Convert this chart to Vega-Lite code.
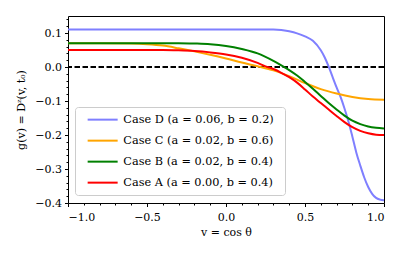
{
  "$schema": "https://vega.github.io/schema/vega-lite/v6.json",
  "width": 316,
  "height": 187,
  "autosize": "none",
  "padding": {"left": 68, "top": 16, "right": 23, "bottom": 52},
  "background": "white",
  "config": {
    "view": {"stroke": "#000", "strokeWidth": 1},
    "font": "DejaVu Serif",
    "axis": {"grid": false, "domain": false, "tickColor": "#000", "labelColor": "#000", "titleColor": "#000", "labelFont": "DejaVu Serif", "titleFont": "DejaVu Serif", "labelFontSize": 11, "titleFontSize": 11, "titleFontWeight": "normal"}
  },
  "datasets": {
    "curves": [
      {"case": "D", "v": -1.0, "g": 0.110}, {"case": "D", "v": -0.5, "g": 0.110}, {"case": "D", "v": 0.0, "g": 0.110}, {"case": "D", "v": 0.2, "g": 0.110}, {"case": "D", "v": 0.3, "g": 0.110}, {"case": "D", "v": 0.35, "g": 0.109}, {"case": "D", "v": 0.4, "g": 0.105}, {"case": "D", "v": 0.45, "g": 0.099}, {"case": "D", "v": 0.5, "g": 0.090}, {"case": "D", "v": 0.55, "g": 0.077}, {"case": "D", "v": 0.6, "g": 0.049}, {"case": "D", "v": 0.625, "g": 0.028}, {"case": "D", "v": 0.65, "g": 0.001}, {"case": "D", "v": 0.675, "g": -0.030}, {"case": "D", "v": 0.7, "g": -0.060}, {"case": "D", "v": 0.725, "g": -0.088}, {"case": "D", "v": 0.75, "g": -0.122}, {"case": "D", "v": 0.775, "g": -0.160}, {"case": "D", "v": 0.8, "g": -0.205}, {"case": "D", "v": 0.825, "g": -0.252}, {"case": "D", "v": 0.85, "g": -0.290}, {"case": "D", "v": 0.875, "g": -0.325}, {"case": "D", "v": 0.9, "g": -0.353}, {"case": "D", "v": 0.925, "g": -0.373}, {"case": "D", "v": 0.95, "g": -0.385}, {"case": "D", "v": 0.975, "g": -0.390}, {"case": "D", "v": 1.0, "g": -0.392},
      {"case": "C", "v": -1.0, "g": 0.070}, {"case": "C", "v": -0.8, "g": 0.070}, {"case": "C", "v": -0.6, "g": 0.069}, {"case": "C", "v": -0.5, "g": 0.067}, {"case": "C", "v": -0.4, "g": 0.063}, {"case": "C", "v": -0.3, "g": 0.055}, {"case": "C", "v": -0.2, "g": 0.046}, {"case": "C", "v": -0.1, "g": 0.036}, {"case": "C", "v": 0.0, "g": 0.025}, {"case": "C", "v": 0.1, "g": 0.013}, {"case": "C", "v": 0.2, "g": 0.002}, {"case": "C", "v": 0.3, "g": -0.010}, {"case": "C", "v": 0.4, "g": -0.027}, {"case": "C", "v": 0.5, "g": -0.047}, {"case": "C", "v": 0.6, "g": -0.065}, {"case": "C", "v": 0.7, "g": -0.078}, {"case": "C", "v": 0.8, "g": -0.088}, {"case": "C", "v": 0.9, "g": -0.094}, {"case": "C", "v": 1.0, "g": -0.096},
      {"case": "B", "v": -1.0, "g": 0.070}, {"case": "B", "v": -0.6, "g": 0.070}, {"case": "B", "v": -0.4, "g": 0.070}, {"case": "B", "v": -0.3, "g": 0.070}, {"case": "B", "v": -0.2, "g": 0.069}, {"case": "B", "v": -0.1, "g": 0.067}, {"case": "B", "v": 0.0, "g": 0.062}, {"case": "B", "v": 0.1, "g": 0.053}, {"case": "B", "v": 0.2, "g": 0.040}, {"case": "B", "v": 0.3, "g": 0.018}, {"case": "B", "v": 0.35, "g": 0.005}, {"case": "B", "v": 0.4, "g": -0.009}, {"case": "B", "v": 0.45, "g": -0.025}, {"case": "B", "v": 0.5, "g": -0.044}, {"case": "B", "v": 0.55, "g": -0.064}, {"case": "B", "v": 0.6, "g": -0.085}, {"case": "B", "v": 0.65, "g": -0.106}, {"case": "B", "v": 0.7, "g": -0.125}, {"case": "B", "v": 0.75, "g": -0.143}, {"case": "B", "v": 0.8, "g": -0.158}, {"case": "B", "v": 0.85, "g": -0.168}, {"case": "B", "v": 0.9, "g": -0.175}, {"case": "B", "v": 0.95, "g": -0.179}, {"case": "B", "v": 1.0, "g": -0.181},
      {"case": "A", "v": -1.0, "g": 0.050}, {"case": "A", "v": -0.6, "g": 0.050}, {"case": "A", "v": -0.4, "g": 0.050}, {"case": "A", "v": -0.3, "g": 0.049}, {"case": "A", "v": -0.2, "g": 0.047}, {"case": "A", "v": -0.1, "g": 0.043}, {"case": "A", "v": 0.0, "g": 0.037}, {"case": "A", "v": 0.1, "g": 0.027}, {"case": "A", "v": 0.2, "g": 0.012}, {"case": "A", "v": 0.25, "g": 0.002}, {"case": "A", "v": 0.3, "g": -0.006}, {"case": "A", "v": 0.35, "g": -0.017}, {"case": "A", "v": 0.4, "g": -0.030}, {"case": "A", "v": 0.45, "g": -0.046}, {"case": "A", "v": 0.5, "g": -0.066}, {"case": "A", "v": 0.55, "g": -0.087}, {"case": "A", "v": 0.6, "g": -0.106}, {"case": "A", "v": 0.65, "g": -0.125}, {"case": "A", "v": 0.7, "g": -0.144}, {"case": "A", "v": 0.75, "g": -0.162}, {"case": "A", "v": 0.8, "g": -0.177}, {"case": "A", "v": 0.85, "g": -0.188}, {"case": "A", "v": 0.9, "g": -0.195}, {"case": "A", "v": 0.95, "g": -0.199}, {"case": "A", "v": 1.0, "g": -0.200}
    ],
    "zero": [{"y": 0}]
  },
  "resolve": {"axis": {"x": "independent", "y": "independent"}},
  "layer": [
    {
      "data": {"name": "zero"},
      "mark": {"type": "rule", "color": "#000", "strokeWidth": 1.8, "strokeDash": [5.5, 2.5]},
      "encoding": {
        "y": {"field": "y", "type": "quantitative", "scale": {"domain": [-0.4, 0.15], "nice": false, "zero": false},
          "axis": {"orient": "left", "values": [-0.38, -0.36, -0.34, -0.32, -0.28, -0.26, -0.24, -0.22, -0.18, -0.16, -0.14, -0.12, -0.08, -0.06, -0.04, -0.02, 0.02, 0.04, 0.06, 0.08, 0.12, 0.14], "labels": false, "tickSize": 2, "title": null, "domain": false}}
      }
    },
    {
      "data": {"name": "curves"},
      "mark": {"type": "line", "strokeWidth": 2, "interpolate": "monotone", "clip": true},
      "encoding": {
        "x": {"field": "v", "type": "quantitative", "scale": {"domain": [-1, 1], "nice": false, "zero": false},
          "axis": {"orient": "bottom", "values": [-1, -0.5, 0, 0.5, 1], "format": ".1f", "tickSize": 3.5, "labelPadding": 5, "title": "v = cos θ", "titlePadding": 4}},
        "y": {"field": "g", "type": "quantitative",
          "axis": {"orient": "left", "values": [-0.4, -0.3, -0.2, -0.1, 0, 0.1], "format": ".1f", "tickSize": 3.5, "labelPadding": 3, "title": "g(v) = Dᶻ(v, t₀)", "titlePadding": 8}},
        "color": {"field": "case", "type": "nominal",
          "scale": {"domain": ["D", "C", "B", "A"], "range": ["#7f7fff", "#ffa500", "#008000", "#ff0000"]},
          "legend": {"orient": "none", "legendX": 7, "legendY": 91, "title": null, "symbolType": "M0,0H30", "symbolSize": 4, "symbolStrokeWidth": 2, "symbolFillColor": "transparent", "labelFont": "DejaVu Serif", "labelFontSize": 11.3, "labelColor": "#000", "labelOffset": 30, "rowPadding": 9, "padding": 7, "strokeColor": "#cccccc", "fillColor": "rgba(255,255,255,0.8)", "cornerRadius": 3,
            "labelExpr": "datum.label == 'D' ? 'Case D (a = 0.06,  b = 0.2)' : datum.label == 'C' ? 'Case C (a = 0.02,  b = 0.6)' : datum.label == 'B' ? 'Case B (a = 0.02,  b = 0.4)' : 'Case A (a = 0.00,  b = 0.4)'"}}
      }
    },
    {
      "data": {"name": "zero"},
      "mark": {"type": "rule", "opacity": 0},
      "encoding": {
        "x": {"datum": 0, "type": "quantitative",
          "axis": {"orient": "bottom", "values": [-0.9, -0.8, -0.7, -0.6, -0.4, -0.3, -0.2, -0.1, 0.1, 0.2, 0.3, 0.4, 0.6, 0.7, 0.8, 0.9], "labels": false, "tickSize": 2, "title": null, "domain": false}}
      }
    }
  ]
}
